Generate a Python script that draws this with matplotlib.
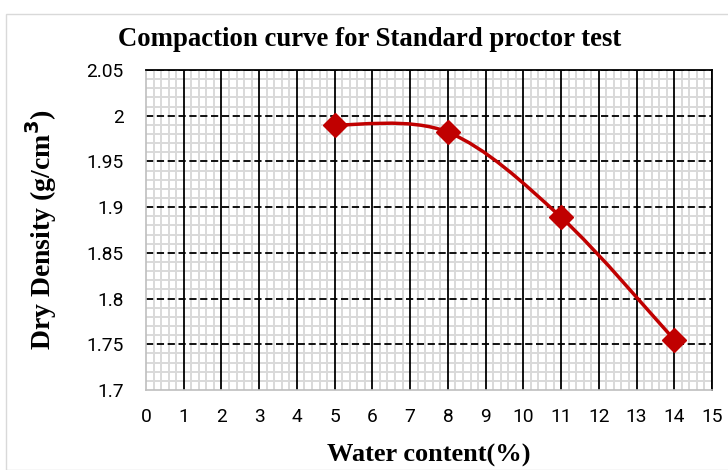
import matplotlib
matplotlib.use("Agg")
import matplotlib.pyplot as plt
import numpy as np
from matplotlib.path import Path
from matplotlib.patches import PathPatch, Rectangle
from matplotlib.ticker import MultipleLocator

# data
water_content = [5, 8, 11, 14]
dry_density = [1.99, 1.982, 1.889, 1.755]

x_ticks = list(range(16))
y_ticks = [1.7, 1.75, 1.8, 1.85, 1.9, 1.95, 2.0, 2.05]
y_tick_labels = ["1.7", "1.75", "1.8", "1.85", "1.9", "1.95", "2", "2.05"]

RED = "#c00000"
SERIF = "Liberation Serif"
SANS = "Roboto"


def smooth_path(xs, ys):
    """Excel-style smoothed line: cubic Bezier through every point."""
    pts = np.column_stack([xs, ys]).astype(float)
    n = len(pts)
    verts = [pts[0]]
    codes = [Path.MOVETO]
    for i in range(n - 1):
        p0 = pts[i - 1] if i > 0 else pts[i]
        p1, p2 = pts[i], pts[i + 1]
        p3 = pts[i + 2] if i + 2 < n else pts[i + 1]
        c1 = p1 + (p2 - p0) / 6
        c2 = p2 - (p3 - p1) / 6
        verts += [c1, c2, p2]
        codes += [Path.CURVE4] * 3
    return Path(verts, codes)


fig = plt.figure(figsize=(7.28, 4.70), dpi=100)
fig.patch.set_facecolor("white")
fig.add_artist(Rectangle((6 / 728, 0), 1, 1 - 14 / 470, transform=fig.transFigure,
                         facecolor="none", edgecolor="#d9d9d9", linewidth=1.0))

ax = fig.add_axes([146 / 728, 1 - 390 / 470, (712 - 146) / 728, 320 / 470])

ax.set_xticks(x_ticks)
ax.set_xticklabels([str(v) for v in x_ticks], fontfamily=SANS)
ax.set_yticks(y_ticks)
ax.set_yticklabels(y_tick_labels, fontfamily=SANS)
ax.xaxis.set_minor_locator(MultipleLocator(0.2))
ax.yaxis.set_minor_locator(MultipleLocator(0.01))
ax.set_xlim(0, 15)
ax.set_ylim(1.7, 2.05)

# light minor grid underneath, heavy major grid drawn on top of it
ax.grid(which="minor", color="#d9d9d9", linewidth=1.4, zorder=0)
ax.set_axisbelow(True)
for xv in x_ticks[1:]:
    ax.axvline(xv, color="black", linewidth=1.3, zorder=1.5)
for yv in y_ticks[1:]:
    ax.axhline(yv, color="black", linewidth=1.3, linestyle=(0, (4, 2)), zorder=1.5)

for side in ["top", "right"]:
    ax.spines[side].set_color("black")
    ax.spines[side].set_linewidth(1.3)
for side in ["left", "bottom"]:
    ax.spines[side].set_color("#bfbfbf")
    ax.spines[side].set_linewidth(1.2)

ax.tick_params(which="both", length=0, labelsize=13.8, colors="black")
ax.tick_params(axis="x", pad=13)
ax.tick_params(axis="y", pad=16)

ax.add_patch(PathPatch(smooth_path(water_content, dry_density), facecolor="none",
                       edgecolor=RED, linewidth=2.5, zorder=3))
ax.plot(water_content, dry_density, linestyle="none", marker="D", markersize=12,
        color=RED, zorder=4, clip_on=False)

ax.set_xlabel("Water content(%)", fontsize=19, fontweight="bold",
              fontfamily=SERIF, labelpad=13)
ax.set_ylabel("Dry Density (g/cm$\\mathbf{^3}$)", fontsize=20, fontweight="bold",
              fontfamily=SERIF, labelpad=20)
fig.text(370 / 728, 1 - 40 / 470, "Compaction curve for Standard proctor test",
         fontsize=19.3, fontweight="bold", fontfamily=SERIF, ha="center", va="center")

fig.savefig("out.png", dpi=100, facecolor="white")
